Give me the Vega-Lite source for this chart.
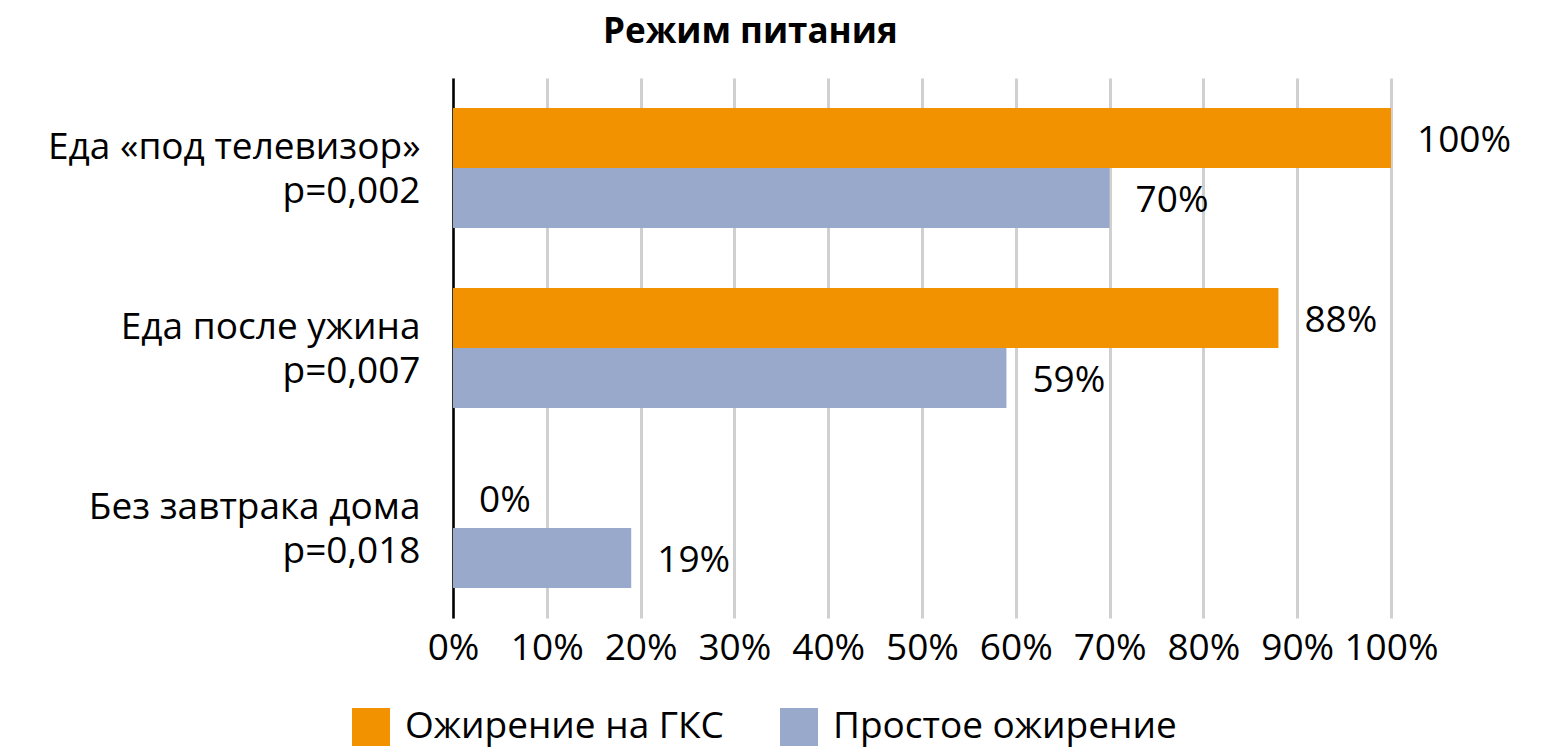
{
  "$schema": "https://vega.github.io/schema/vega-lite/v6.json",
  "autosize": "none",
  "padding": {"left": 453, "top": 78, "right": 154, "bottom": 138},
  "width": 938,
  "height": 540,
  "background": "white",
  "title": {
    "text": "Режим питания",
    "anchor": "start",
    "frame": "group",
    "dx": 150,
    "offset": 28,
    "fontSize": 35,
    "fontWeight": "bold",
    "font": "Open Sans",
    "color": "black"
  },
  "config": {
    "font": "Open Sans",
    "view": {"stroke": null}
  },
  "data": {
    "values": [
      {"group": "Еда «под телевизор»|p=0,002", "series": "Ожирение на ГКС", "value": 1.0},
      {"group": "Еда «под телевизор»|p=0,002", "series": "Простое ожирение", "value": 0.7},
      {"group": "Еда после ужина|p=0,007", "series": "Ожирение на ГКС", "value": 0.88},
      {"group": "Еда после ужина|p=0,007", "series": "Простое ожирение", "value": 0.59},
      {"group": "Без завтрака дома|p=0,018", "series": "Ожирение на ГКС", "value": 0},
      {"group": "Без завтрака дома|p=0,018", "series": "Простое ожирение", "value": 0.19}
    ]
  },
  "encoding": {
    "y": {
      "field": "group",
      "type": "nominal",
      "sort": null,
      "title": null,
      "scale": {"paddingInner": 0.3333, "paddingOuter": 0.1667},
      "axis": {
        "domain": true,
        "domainColor": "black",
        "domainWidth": 2.5,
        "ticks": false,
        "labelPadding": 33,
        "labelFontSize": 37,
        "labelColor": "black",
        "labelLineHeight": 44,
        "labelOffset": -20,
        "labelLimit": 500,
        "labelExpr": "split(datum.label, '|')"
      }
    },
    "yOffset": {
      "field": "series",
      "type": "nominal",
      "scale": {"domain": ["Ожирение на ГКС", "Простое ожирение"]}
    }
  },
  "layer": [
    {
      "mark": {"type": "bar"},
      "encoding": {
        "x": {
          "field": "value",
          "type": "quantitative",
          "title": null,
          "scale": {"domain": [0, 1]},
          "axis": {
            "values": [0, 0.1, 0.2, 0.3, 0.4, 0.5, 0.6, 0.7, 0.8, 0.9, 1],
            "format": ".0%",
            "grid": true,
            "gridColor": "#d0d0d0",
            "gridWidth": 3,
            "domain": false,
            "ticks": false,
            "labelFontSize": 37,
            "labelColor": "black",
            "labelPadding": 12,
            "labelFlush": false
          }
        },
        "color": {
          "field": "series",
          "type": "nominal",
          "scale": {
            "domain": ["Ожирение на ГКС", "Простое ожирение"],
            "range": ["#f29200", "#98a9cc"]
          },
          "legend": {
            "title": null,
            "orient": "none",
            "direction": "horizontal",
            "legendX": -101,
            "legendY": 630,
            "symbolType": "square",
            "symbolSize": 1444,
            "symbolStrokeWidth": 0,
            "labelFontSize": 37,
            "labelColor": "black",
            "labelOffset": 15,
            "labelLimit": 500,
            "columnPadding": 56
          }
        }
      }
    },
    {
      "mark": {"type": "text", "align": "left", "baseline": "middle", "dx": 26, "dy": 3, "fontSize": 37, "color": "black"},
      "encoding": {
        "x": {"field": "value", "type": "quantitative"},
        "text": {"field": "value", "type": "quantitative", "format": ".0%"}
      }
    }
  ]
}
